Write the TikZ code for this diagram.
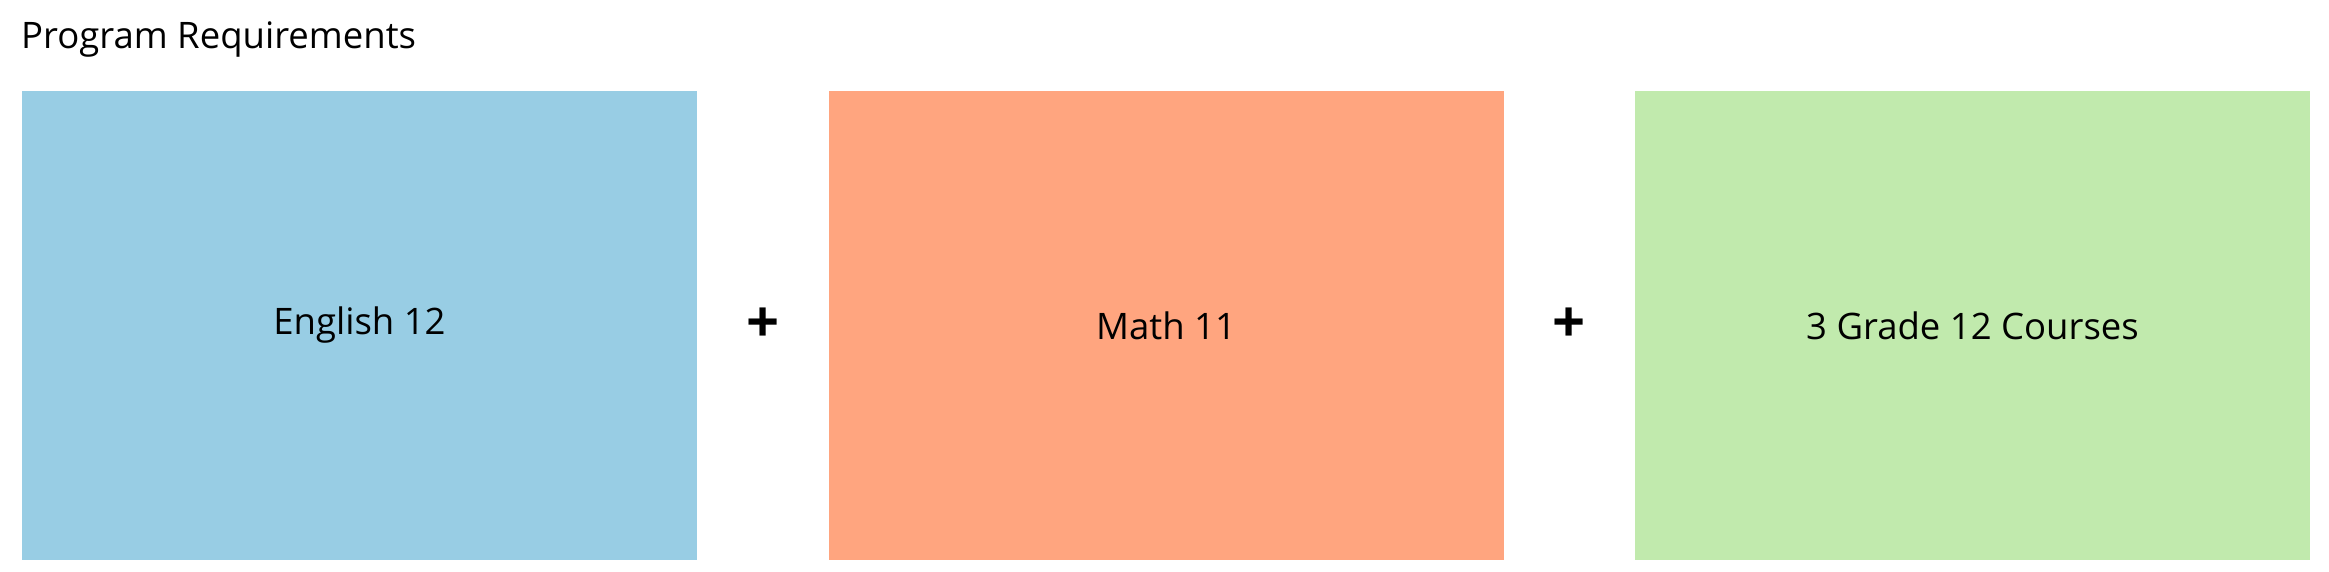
\documentclass[tikz,border=0pt]{standalone}
\usepackage{fontspec}
\setmainfont{Open Sans}
\usepackage{xcolor}
\definecolor{boxblue}{RGB}{152,205,228}
\definecolor{boxorange}{RGB}{255,165,127}
\definecolor{boxgreen}{RGB}{193,234,173}
\tikzset{
  reqbox/.style={inner sep=0pt, minimum width=675, minimum height=469, font=\fontsize{36.5}{42}\selectfont},
  plussign/.style={inner sep=0pt, font=\fontsize{58}{60}\selectfont\bfseries}
}

\begin{document}
\begin{tikzpicture}[x=1pt,y=1pt,yscale=-1,xscale=1]
\useasboundingbox (0,0) rectangle (2329,571);

% Text Node
\draw (21,48) node [anchor=base west, inner sep=0pt, font=\fontsize{36.5}{42}\selectfont] (title) {Program Requirements};

%Shape: Rectangle
\node [reqbox, fill=boxblue] (english) at (359.5,325.5) {English 12};
%Shape: Rectangle
\node [reqbox, fill=boxorange] (math) at (1166,325.5) {Math 11};
%Shape: Rectangle
\node [reqbox, fill=boxgreen] (grade) at (1972.5,325.5) {3 Grade 12 Courses};

% Text Node
\node [plussign] (plusa) at (763,325.5) {+};
% Text Node
\node [plussign] (plusb) at (1569,325.5) {+};

\end{tikzpicture}
\end{document}
